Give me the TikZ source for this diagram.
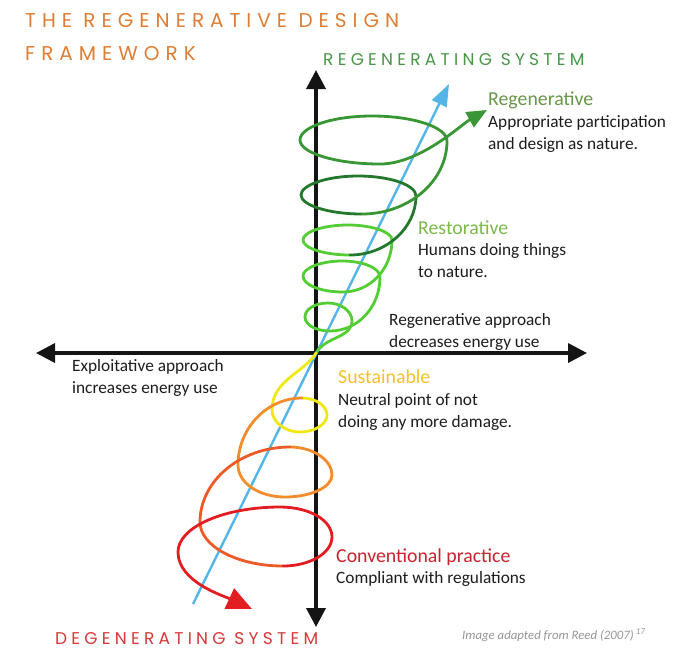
\documentclass[tikz,border=0pt]{standalone}
\usepackage{fontspec}
\setmainfont{Carlito}
\newfontfamily\handfont[LetterSpace=30]{Poppins}
\newfontfamily\handsysfont[LetterSpace=25]{Poppins}
\usetikzlibrary{arrows.meta, positioning}
\definecolor{titleorange}{RGB}{221,126,52}
\definecolor{regengreen}{RGB}{72,150,72}
\definecolor{degenred}{RGB}{214,56,56}
\definecolor{headregen}{RGB}{104,150,72}
\definecolor{headresto}{RGB}{124,184,74}
\definecolor{headsust}{RGB}{246,192,40}
\definecolor{headconv}{RGB}{200,34,44}
\definecolor{bodytext}{RGB}{28,28,28}
\definecolor{creditgray}{RGB}{150,150,150}
\definecolor{skyline}{RGB}{84,182,232}
\definecolor{gdark}{RGB}{36,120,44}
\definecolor{gmid}{RGB}{56,150,52}
\definecolor{gbright}{RGB}{84,204,52}
\definecolor{syellow}{RGB}{240,232,20}
\definecolor{sorange}{RGB}{242,140,44}
\definecolor{sorangered}{RGB}{236,90,40}
\definecolor{sred}{RGB}{226,30,34}
\definecolor{axisblack}{RGB}{20,20,20}
\tikzset{
    axis/.style={line width=3.6pt, axisblack, {Triangle[width=19pt,length=19pt]}-{Triangle[width=19pt,length=19pt]}},
    trend/.style={line width=2.4pt, skyline, -{Triangle[width=16pt,length=22pt]}},
    spiral/.style={line width=2.8pt, line cap=round},
    handtitle/.style={anchor=base west, inner sep=0pt, text=titleorange, font=\handfont\fontsize{20}{22}\selectfont},
    handsys/.style={anchor=base west, inner sep=0pt, font=\handsysfont\fontsize{17}{20}\selectfont},
    stagehead/.style={anchor=base west, inner sep=0pt, font=\fontsize{19.8}{22}\selectfont},
    stagebody/.style={anchor=base west, inner sep=0pt, align=left, text=bodytext, font=\fontsize{17.3}{21.5}\selectfont},
    credit/.style={anchor=base west, inner sep=0pt, text=creditgray, font=\itshape\fontsize{12.8}{14}\selectfont}
}
\begin{document}
\begin{tikzpicture}[x=1pt, y=-1pt]
    \useasboundingbox (0,0) rectangle (679,649);
    % axes and trend line
    \coordinate (O) at (316,353);
    \coordinate (ytop) at (316,70);
    \coordinate (ybot) at (316,627);
    \coordinate (xleft) at (36,353);
    \coordinate (xright) at (587,353);
    \coordinate (btail) at (193,604);
    \coordinate (bhead) at (449,84);
    \coordinate (gtip) at (487,110);
    \coordinate (rtip) at (252,609);
    \draw[axis] (ybot) -- (ytop);
    \draw[axis] (xleft) -- (xright);
    \draw[trend] (btail) -- (bhead);
    % regenerating spiral, bottom loop first
    \draw[spiral, color=gbright] (O) .. controls +(10,-17) and +(0,17) .. (352,321)
        .. controls +(0,-10) and +(13,0) .. (328,303) .. controls +(-13,0) and +(0,-8) .. (305,317)
        .. controls +(0,8) and +(-14,0) .. (330,331) .. controls +(28,0) and +(0,30) .. (380,277)
        .. controls +(0,-9) and +(21,0) .. (342,261) .. controls +(-21,0) and +(0,-8) .. (303,276)
        .. controls +(0,9) and +(-22,0) .. (343,292) .. controls +(27,0) and +(0,29) .. (392,240)
        .. controls +(0,-8) and +(24,0) .. (348,225) .. controls +(-25,0) and +(0,-8) .. (303,240)
        .. controls +(0,8) and +(-26,0) .. (350,255);
    \draw[spiral, color=gdark] (350,255) .. controls +(36,0) and +(0,32) .. (416,196)
        .. controls +(0,-11) and +(32,0) .. (358,176) .. controls +(-31,0) and +(0,-10) .. (301,195)
        .. controls +(0,10) and +(-34,0) .. (362,214);
    \draw[spiral, color=gmid, -{Triangle[width=17pt,length=20pt]}] (362,214) .. controls +(47,0) and +(0,40) .. (447,141)
        .. controls +(0,-14) and +(41,0) .. (372,116) .. controls +(-40,0) and +(0,-13) .. (300,140)
        .. controls +(0,13) and +(-44,0) .. (380,164) .. controls +(40,0) and +(-25,14) .. (gtip);
    % degenerating spiral
    \draw[spiral, color=syellow] (O) .. controls +(-12,20) and +(0,-30) .. (272,410)
        .. controls +(0,12) and +(-15,0) .. (300,432) .. controls +(15,0) and +(0,9) .. (327,415)
        .. controls +(0,-9) and +(14,0) .. (302,398);
    \draw[spiral, color=sorange] (302,398) .. controls +(-35,0) and +(0,-37) .. (238,465)
        .. controls +(0,18) and +(-26,0) .. (285,497) .. controls +(26,0) and +(0,12) .. (332,475)
        .. controls +(0,-15) and +(23,0) .. (290,447);
    \draw[spiral, color=sorangered] (290,447) .. controls +(-50,0) and +(0,-41) .. (200,522)
        .. controls +(0,24) and +(-46,0) .. (283,566);
    \draw[spiral, color=sred, -{Triangle[width=22pt,length=25pt]}] (283,566) .. controls +(27,0) and +(0,16) .. (332,537)
        .. controls +(0,-17) and +(29,0) .. (280,507) .. controls +(-56,0) and +(0,-25) .. (178,552)
        .. controls +(0,30) and +(-28,-13) .. (rtip);
    % titles
    \node[handtitle] (title1) at (25,27) {THE REGENERATIVE DESIGN};
    \node[handtitle] (title2) at (25,60) {FRAMEWORK};
    \node[handsys, text=regengreen] (regensys) at (323,65) {REGENERATING SYSTEM};
    \node[handsys, text=degenred] (degensys) at (55,644) {DEGENERATING SYSTEM};
    % stage labels (body nodes sit on their last baseline)
    \node[stagehead, text=headregen] (regen) at (488,105) {Regenerative};
    \node[stagebody] (regentxt) at (488,149) {Appropriate participation\\and design as nature.};
    \node[stagehead, text=headresto] (resto) at (418,234) {Restorative};
    \node[stagebody] (restotxt) at (418,277) {Humans doing things\\to nature.};
    \node[stagebody] (regenuse) at (389,347) {Regenerative approach\\decreases energy use};
    \node[stagebody] (exploit) at (72,393) {Exploitative approach\\increases energy use};
    \node[stagehead, text=headsust] (sust) at (338,383) {Sustainable};
    \node[stagebody] (susttxt) at (338,427) {Neutral point of not\\doing any more damage.};
    \node[stagehead, text=headconv] (conv) at (336,562) {Conventional practice};
    \node[stagebody] (convtxt) at (336,583) {Compliant with regulations};
    \node[credit] (source) at (462,639) {Image adapted from Reed (2007)\,\textsuperscript{17}};
\end{tikzpicture}
\end{document}
